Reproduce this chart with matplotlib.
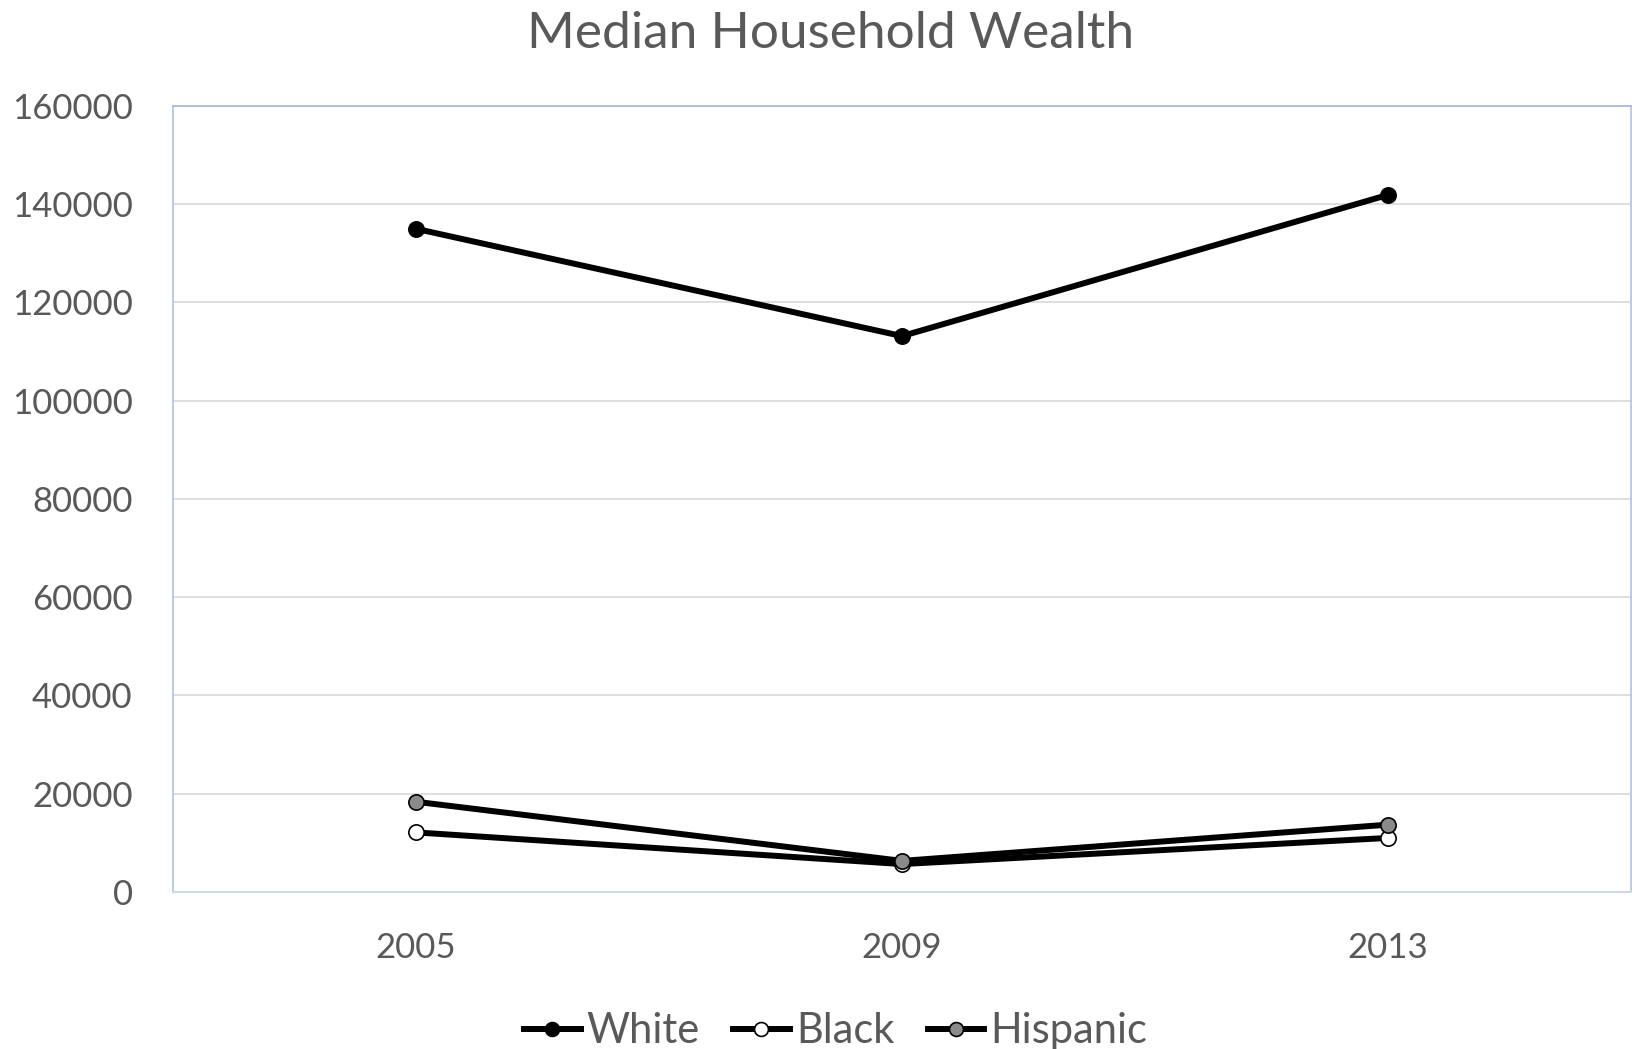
import matplotlib
matplotlib.use("Agg")
import matplotlib.pyplot as plt
from matplotlib.lines import Line2D

# Median household wealth by race/ethnicity (USD)
years = ["2005", "2009", "2013"]
white = [134992, 113149, 141900]
black = [12124, 5677, 11000]
hispanic = [18359, 6325, 13700]

series_names = ["White", "Black", "Hispanic"]
marker_faces = ["black", "white", "#8a8a8a"]
y_ticks = [0, 20000, 40000, 60000, 80000, 100000, 120000, 140000, 160000]

plt.rcParams["font.family"] = ["Lato", "DejaVu Sans"]
text_color = "#595959"

fig = plt.figure(figsize=(16.32, 10.49), dpi=100)
ax = fig.add_axes([0.106, 0.1497, 0.8934, 0.7493])

x = list(range(len(years)))
for vals, name, face in zip([white, black, hispanic], series_names, marker_faces):
    ax.plot(x, vals, color="black", lw=4.3, marker="o", markersize=11,
            markerfacecolor=face, markeredgecolor="black", markeredgewidth=1.2,
            label=name, zorder=3, solid_capstyle="round")

ax.set_xlim(-0.5, 2.5)
ax.set_ylim(0, 160000)
ax.set_yticks(y_ticks)
ax.set_yticklabels([str(v) for v in y_ticks])
ax.set_xticks(x)
ax.set_xticklabels(years)
ax.grid(axis="y", color="#d9d9d9", lw=1.2, zorder=0)
ax.set_axisbelow(True)
ax.tick_params(axis="both", length=0, labelsize=25, colors=text_color)
ax.tick_params(axis="y", pad=29)
ax.tick_params(axis="x", pad=29)

for side in ["left", "top", "right"]:
    ax.spines[side].set_color("#b4c7e7")
    ax.spines[side].set_linewidth(1.3)
ax.spines["top"].set_color("#a9bcd9")
ax.spines["bottom"].set_color("#d0d7e5")
ax.spines["bottom"].set_linewidth(1.5)

fig.text(0.509, 0.968, "Median Household Wealth", ha="center", va="center",
         fontsize=37, color=text_color)

handles = [Line2D([0], [0], color="black", lw=4.3, marker="o", markersize=10,
                  markerfacecolor=f, markeredgecolor="black", markeredgewidth=1.2)
           for f in marker_faces]
fig.legend(handles, series_names, loc="center", bbox_to_anchor=(0.512, 0.017),
           ncol=3, frameon=False, fontsize=30, labelcolor=text_color,
           handlelength=1.35, handletextpad=0.15, columnspacing=0.8)

fig.savefig("out.png", dpi=100)
